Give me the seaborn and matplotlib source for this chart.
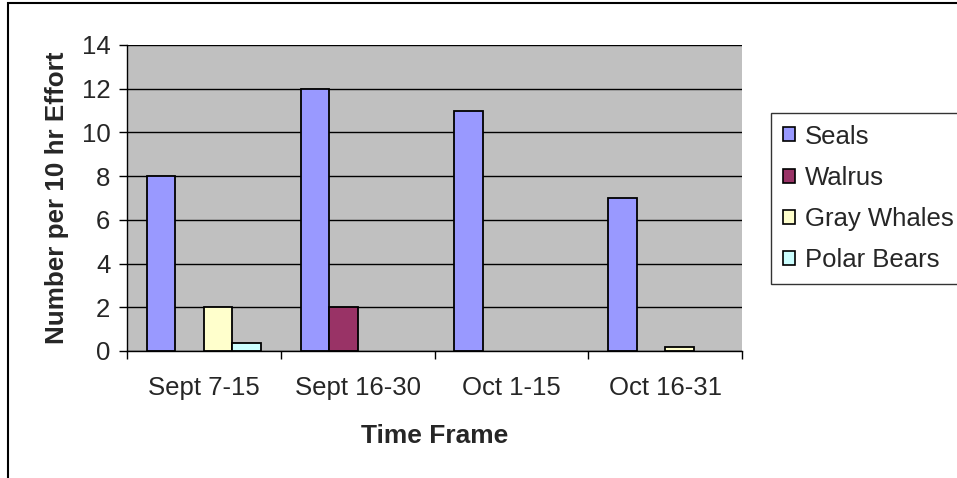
import matplotlib
matplotlib.use("Agg")
import matplotlib.pyplot as plt
import seaborn as sns
import pandas as pd
from matplotlib.patches import Rectangle

categories = ["Sept 7-15", "Sept 16-30", "Oct 1-15", "Oct 16-31"]
seals = [8, 12, 11, 7]
walrus = [0, 2, 0, 0]
gray_whales = [2, 0, 0, 0.18]
polar_bears = [0.37, 0, 0, 0]
series_names = ["Seals", "Walrus", "Gray Whales", "Polar Bears"]
colors = ["#9999FF", "#993366", "#FFFFCC", "#CCFFFF"]

rows = []
for name, vals in zip(series_names, [seals, walrus, gray_whales, polar_bears]):
    for c, v in zip(categories, vals):
        rows.append({"Time Frame": c, "Species": name, "Value": v})
df = pd.DataFrame(rows)

sns.set_style("white")
plt.rcParams["font.family"] = ["Liberation Sans", "DejaVu Sans"]

fig = plt.figure(figsize=(9.57, 4.78), dpi=100)
ax = fig.add_axes([127/957, 1-351/478, (742-127)/957, (351-45)/478])
ax.set_facecolor("#C0C0C0")

sns.barplot(data=df, x="Time Frame", y="Value", hue="Species", order=categories,
            hue_order=series_names, palette=colors, width=0.74, ax=ax,
            edgecolor="black", linewidth=1.3, legend=True, saturation=1)
for p in ax.patches:
    if p.get_height() == 0:
        p.set_linewidth(0)

ax.set_ylim(0, 14)
ax.set_xlim(-0.5, 3.5)
ax.set_yticks(range(0, 15, 2))
ax.yaxis.grid(True, color="black", linewidth=1)
ax.set_axisbelow(True)
for s in ["top", "right"]:
    ax.spines[s].set_visible(False)
for s in ["left", "bottom"]:
    ax.spines[s].set_color("black")
    ax.spines[s].set_linewidth(1)
ax.tick_params(axis="y", direction="out", length=6, width=1, color="black", labelsize=18.5, pad=6, left=True)
ax.tick_params(axis="x", which="major", length=0, labelsize=18.5, pad=18)
ax.set_xticks([-0.5, 0.5, 1.5, 2.5, 3.5], minor=True)
ax.tick_params(axis="x", which="minor", direction="out", length=6, width=1, color="black", bottom=True)
ax.set_xlabel("Time Frame", fontsize=19, fontweight="bold", labelpad=17)
ax.set_ylabel("Number per 10 hr Effort", fontsize=18.7, fontweight="bold", labelpad=9)

leg = ax.legend(loc="upper left", bbox_to_anchor=(771/957, 1-113/478), bbox_transform=fig.transFigure,
                frameon=True, fancybox=False, fontsize=18.5, handlelength=0.47, handleheight=0.47,
                handletextpad=0.4, labelspacing=0.67, borderpad=0.45, borderaxespad=0)
leg.get_frame().set_edgecolor("black")
leg.get_frame().set_linewidth(1)
for h in leg.legend_handles:
    h.set_edgecolor("black")
    h.set_linewidth(1.2)

fig.patches.append(Rectangle((8/957, -0.1), 1.2, 1-3/478+0.1, transform=fig.transFigure,
                             fill=False, edgecolor="black", linewidth=1.5))

fig.savefig("out.png", dpi=100)
